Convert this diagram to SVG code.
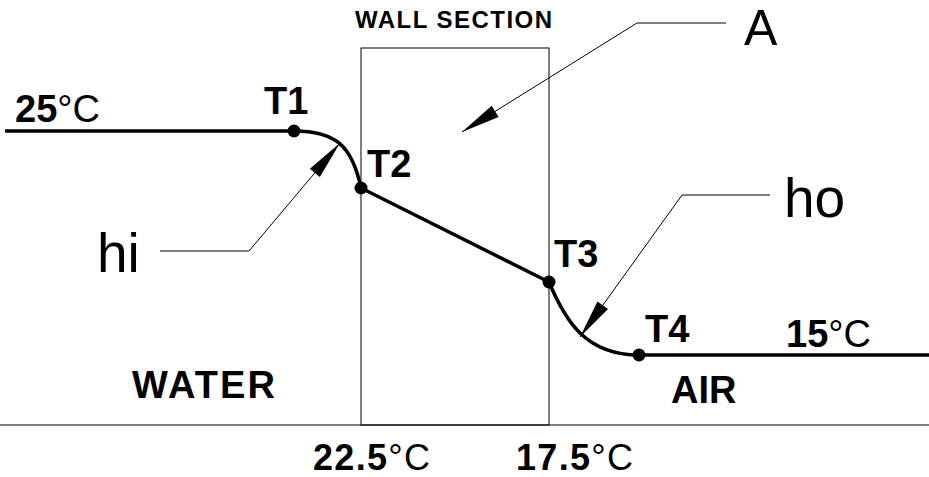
<svg xmlns="http://www.w3.org/2000/svg" width="929" height="477" viewBox="0 0 929 477">
<style>
.b{font-family:"Liberation Sans",Arial,sans-serif;font-weight:bold;font-size:38px;fill:#000}
.r{font-weight:normal}
.big{font-family:"Liberation Sans",Arial,sans-serif;font-size:55px;fill:#000}
.thin{fill:none;stroke:#000;stroke-width:1}
.thick{fill:none;stroke:#000;stroke-width:3.5;stroke-linejoin:round}
.dot{fill:#000}
</style>
<defs>
<marker id="ah" markerUnits="userSpaceOnUse" markerWidth="42" markerHeight="16" viewBox="-40 -8 42 16" refX="0" refY="0" orient="auto">
<path d="M0,0 L-39,-6.5 L-39,6.5 Z" fill="#000"/>
</marker>
</defs>
<rect width="929" height="477" fill="#fff"/>
<g id="wall">
<rect x="361" y="48" width="188" height="377" class="thin"/>
<line x1="0" y1="425" x2="929" y2="425" class="thin"/>
<text x="355" y="28" class="b" style="font-size:24px" textLength="197" lengthAdjust="spacing">WALL SECTION</text>
</g>
<g id="profile">
<path d="M5,131 L294,131 C335,131 352,145 361,188 L549,282 C565,320 585,355 639,355 L929,355" class="thick"/>
</g>
<g id="T1"><circle cx="294" cy="131" r="6.5" class="dot"/><text x="264" y="114" class="b">T1</text></g>
<g id="T2"><circle cx="361" cy="188" r="6.5" class="dot"/><text x="367" y="177" class="b">T2</text></g>
<g id="T3"><circle cx="549" cy="282" r="6.5" class="dot"/><text x="554" y="267" class="b">T3</text></g>
<g id="T4"><circle cx="639" cy="355" r="6.5" class="dot"/><text x="645" y="342" class="b">T4</text></g>
<g id="labels">
<text x="15" y="122" class="b">25<tspan class="r">°C</tspan></text>
<text x="786" y="347" class="b">15<tspan class="r">°C</tspan></text>
<text x="313" y="470" class="b" style="font-size:36px" textLength="117" lengthAdjust="spacing">22.5<tspan class="r">°C</tspan></text>
<text x="516" y="470" class="b" style="font-size:36px" textLength="117" lengthAdjust="spacing">17.5<tspan class="r">°C</tspan></text>
<text x="132" y="398" class="b" textLength="143" lengthAdjust="spacing">WATER</text>
<text x="671" y="403" class="b">AIR</text>
<text x="97" y="272" class="big">hi</text>
<text x="744" y="45" class="big" style="font-size:50px">A</text>
<text x="784" y="217" class="big">ho</text>
</g>
<g id="connectors">
<path d="M160,251 L249,251 L340,143" class="thin" marker-end="url(#ah)"/>
<path d="M726,23 L637,23 L462,132" class="thin" marker-end="url(#ah)"/>
<path d="M770,195 L682,195 L580,337" class="thin" marker-end="url(#ah)"/>
</g>
</svg>
